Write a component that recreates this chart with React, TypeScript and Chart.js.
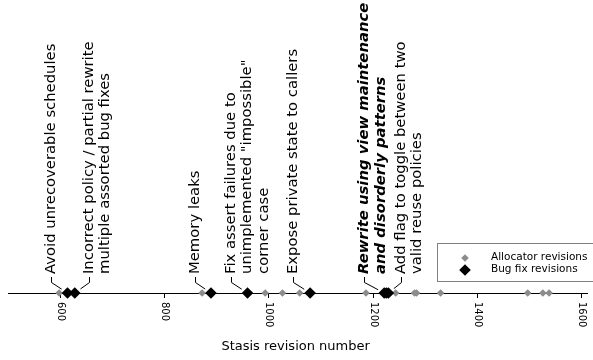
import React, { useEffect, useRef } from "react";
import { Chart, registerables } from "chart.js";

Chart.register(...registerables);

// ---- data ----
const allocatorRevisions = [598, 614, 628, 872, 889, 959, 993, 1026, 1059, 1079, 1186, 1221, 1225, 1229, 1243, 1279, 1283, 1329, 1496, 1525, 1537];
const bugFixRevisions = [614, 628, 889, 959, 1079, 1221, 1225, 1229];
const tickValues = [600, 800, 1000, 1200, 1400, 1600];
const tickLabels = ["600", "800", "1000", "1200", "1400", "1600"];
const axisTitle = "Stasis revision number";
const seriesLabels = ["Allocator revisions", "Bug fix revisions"];

const annotationLines = [
  ["Avoid unrecoverable schedules"],
  ["Incorrect policy / partial rewrite", "multiple assorted bug fixes"],
  ["Memory leaks"],
  ["Fix assert failures due to", "unimplemented \"impossible\"", "corner case"],
  ["Expose private state to callers"],
  ["Rewrite using view maintenance", "and disorderly patterns"],
  ["Add flag to toggle between two", "valid reuse policies"],
];
const annotationTargets = [614, 628, 889, 959, 1079, 1221, 1229];
const annotationTextAt = [582, 655, 858, 927, 1046, 1183, 1253];
const annotationBold = [false, false, false, false, false, true, false];

const FONT = "'DejaVu Sans', sans-serif";

function diamond(ctx: CanvasRenderingContext2D, x: number, y: number, r: number, color: string) {
  ctx.beginPath();
  ctx.moveTo(x - r, y);
  ctx.lineTo(x, y - r);
  ctx.lineTo(x + r, y);
  ctx.lineTo(x, y + r);
  ctx.closePath();
  ctx.fillStyle = color;
  ctx.fill();
}

const overlay = {
  id: "overlay",
  afterDraw(chart: any) {
    const ctx: CanvasRenderingContext2D = chart.ctx;
    const xs = chart.scales.x;
    const area = chart.chartArea;
    const base = area.bottom;
    ctx.save();
    ctx.fillStyle = "#000";
    ctx.strokeStyle = "#000";
    ctx.lineWidth = 1;

    // tick labels (rotated clockwise)
    ctx.font = `10px ${FONT}`;
    ctx.textAlign = "left";
    ctx.textBaseline = "middle";
    tickValues.forEach((v, i) => {
      const x = xs.getPixelForValue(v);
      ctx.save();
      ctx.translate(x, base + 9);
      ctx.rotate(Math.PI / 2);
      ctx.fillText(tickLabels[i], 0, 0);
      ctx.restore();
    });

    // axis title
    ctx.font = `13px ${FONT}`;
    ctx.textAlign = "center";
    ctx.fillText(axisTitle, (area.left + area.right) / 2 - 2, 347);

    // annotations
    annotationLines.forEach((lines, i) => {
      const cx = xs.getPixelForValue(annotationTextAt[i]);
      ctx.font = annotationBold[i] ? `italic bold 14.8px ${FONT}` : `14.8px ${FONT}`;
      ctx.fillStyle = "#000";
      lines.forEach((t, j) => {
        ctx.save();
        ctx.translate(cx + j * 16.5, 274);
        ctx.rotate(-Math.PI / 2);
        ctx.textAlign = "left";
        ctx.textBaseline = "middle";
        ctx.fillText(t, 0, 0);
        ctx.restore();
      });
      const px = xs.getPixelForValue(annotationTargets[i]);
      const sx = Math.round(cx) + 0.5;
      const sy0 = 277;
      const sy1 = 282.5;
      const dx = px - sx;
      const dy = base - sy1;
      const len = Math.hypot(dx, dy);
      const shrink = 7;
      const ex = sx + (dx * (len - shrink)) / len;
      const ey = sy1 + (dy * (len - shrink)) / len;
      ctx.beginPath();
      ctx.moveTo(sx, sy0);
      ctx.lineTo(sx, sy1);
      ctx.lineTo(ex, ey);
      ctx.stroke();
    });

    // legend
    ctx.fillStyle = "#fff";
    ctx.fillRect(437.5, 243.5, 170, 38);
    ctx.strokeStyle = "#808080";
    ctx.strokeRect(437.5, 243.5, 170, 38);
    const ds = chart.data.datasets;
    const entries = [ds[1], ds[0]];
    entries.forEach((d: any, k: number) => {
      const y = 257.5 + k * 12;
      diamond(ctx, 465, y + 0.5, d.pointRadius, d.backgroundColor);
      ctx.fillStyle = "#000";
      ctx.font = `10.5px ${FONT}`;
      ctx.textAlign = "left";
      ctx.textBaseline = "middle";
      ctx.fillText(d.label, 491, y);
    });
    ctx.restore();
  },
};

export default function App() {
  const ref = useRef<HTMLCanvasElement | null>(null);
  useEffect(() => {
    if (!ref.current) return;
    const chart = new Chart(ref.current, {
      type: "scatter",
      data: {
        datasets: [
          {
            label: seriesLabels[1],
            data: bugFixRevisions.map((v) => ({ x: v, y: 0 })),
            pointStyle: "rectRot",
            pointRadius: 5.8,
            pointHoverRadius: 5.8,
            backgroundColor: "#000000",
            borderWidth: 0,
            clip: false,
            order: 1,
          } as any,
          {
            label: seriesLabels[0],
            data: allocatorRevisions.map((v) => ({ x: v, y: 0 })),
            pointStyle: "rectRot",
            pointRadius: 3.8,
            pointHoverRadius: 3.8,
            backgroundColor: "#8c8c8c",
            borderWidth: 0,
            clip: false,
            order: 2,
          } as any,
        ],
      },
      options: {
        animation: false,
        responsive: false,
        events: [],
        layout: { padding: { left: 8, right: 0, top: 0, bottom: 0 } },
        plugins: { legend: { display: false }, tooltip: { enabled: false } },
        scales: {
          x: {
            type: "linear",
            min: 500,
            max: 1610,
            afterBuildTicks: (s: any) => {
              s.ticks = tickValues.map((v) => ({ value: v }));
            },
            afterFit: (s: any) => {
              s.height = 67;
            },
            ticks: { display: false },
            grid: { drawOnChartArea: false, drawTicks: true, tickLength: 5, color: "#000", lineWidth: 1 },
            border: { display: true, color: "#000", width: 1 },
          },
          y: { display: false, min: 0, max: 1 },
        },
      } as any,
      plugins: [overlay],
    });
    return () => chart.destroy();
  }, []);
  return (
    <div style={{ position: "fixed", left: 0, top: 0, width: 593, height: 360, background: "#fff" }}>
      <canvas ref={ref} width={593} height={360} style={{ display: "block" }} />
    </div>
  );
}
